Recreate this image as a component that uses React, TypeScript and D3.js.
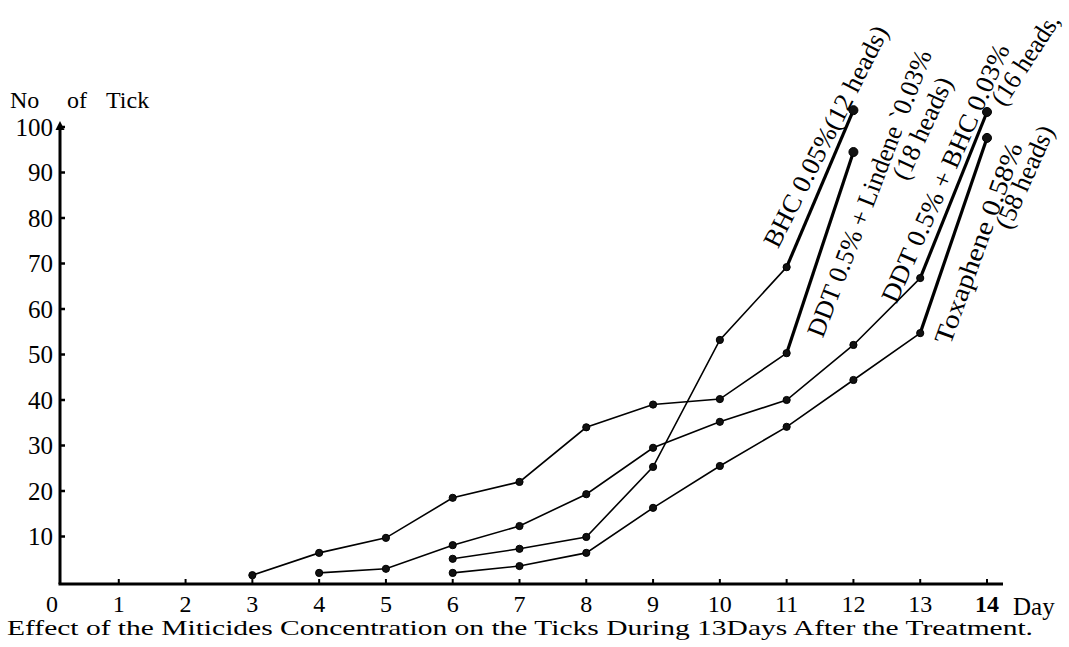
import React from "react";
import * as d3 from "d3";

// ---- data ----
const dayTicks = [0, 1, 2, 3, 4, 5, 6, 7, 8, 9, 10, 11, 12, 13, 14];
const countTicks = [10, 20, 30, 40, 50, 60, 70, 80, 90, 100];

const bhcDays = [6, 7, 8, 9, 10, 11, 12];
const bhcValues = [5.1, 7.3, 9.9, 25.3, 53.2, 69.2, 103.7];

const ddtLindeneDays = [3, 4, 5, 6, 7, 8, 9, 10, 11, 12];
const ddtLindeneValues = [1.5, 6.4, 9.7, 18.5, 22, 34, 39, 40.2, 50.3, 94.5];

const ddtBhcDays = [4, 5, 6, 7, 8, 9, 10, 11, 12, 13, 14];
const ddtBhcValues = [2, 2.9, 8.1, 12.3, 19.3, 29.5, 35.2, 40, 52.1, 66.8, 103.3];

const toxDays = [6, 7, 8, 9, 10, 11, 12, 13, 14];
const toxValues = [2, 3.5, 6.4, 16.3, 25.5, 34.1, 44.4, 54.7, 97.6];

const seriesNames = ["BHC", "DDT+Lindene", "DDT+BHC", "Toxaphene"];

const labelTexts = [
  "BHC 0.05%(12 heads)",
  "DDT 0.5% + Lindene `0.03%",
  "(18 heads)",
  "DDT 0.5% + BHC 0.03%",
  "(16 heads,",
  "Toxaphene 0.58%",
  "(58 heads)",
];
const labelSeries = ["BHC", "DDT+Lindene", "DDT+Lindene", "DDT+BHC", "DDT+BHC", "Toxaphene", "Toxaphene"];

const yAxisTitle = ["No", "of", "Tick"];
const xAxisUnit = "Day";
const caption = "Effect of the Miticides Concentration on the Ticks During 13Days After the Treatment.";

// ---- layout / style (not data) ----
const W = 1069;
const H = 647;
const labelStyle = [
  { dx: -28, dy: 26, angle: -63, len: 245 },
  { dx: 15.5, dy: 41, angle: -69, len: 305 },
  { dx: 68.5, dy: -24, angle: -65, len: 110 },
  { dx: -42, dy: 61, angle: -66, len: 280 },
  { dx: 38, dy: -53, angle: -57, len: 104 },
  { dx: -9, dy: 105, angle: -70, len: 212 },
  { dx: 37, dy: 39, angle: -66, len: 110 },
];

const FONT = "'Liberation Serif', 'DejaVu Serif', serif";

export default function App() {
  const x = d3.scaleLinear().domain([0, 14]).range([52, 987]);
  const y = d3.scaleLinear().domain([0, 100]).range([582, 127]);

  const series = [
    { name: seriesNames[0], days: bhcDays, values: bhcValues },
    { name: seriesNames[1], days: ddtLindeneDays, values: ddtLindeneValues },
    { name: seriesNames[2], days: ddtBhcDays, values: ddtBhcValues },
    { name: seriesNames[3], days: toxDays, values: toxValues },
  ].map((s) => ({
    ...s,
    pts: s.days.map((d, i) => [x(d), y(s.values[i])] as [number, number]),
  }));

  const line = d3.line<[number, number]>();
  const axisX = x(0) + 8;
  const axisY = y(0) + 2;

  return (
    <svg width={W} height={H} style={{ display: "block", position: "absolute", left: 0, top: 0, background: "#fff" }}>
      <rect x={0} y={0} width={W} height={H} fill="#fff" />
      {/* y axis */}
      <line x1={axisX} y1={axisY} x2={axisX} y2={y(100) - 2} stroke="#000" strokeWidth={3} />
      <path d={`M${axisX},${y(100) - 6} l-4.5,9 l9,0 z`} fill="#000" />
      {countTicks.map((t) => (
        <g key={t}>
          <line x1={axisX} x2={axisX + 5} y1={y(t)} y2={y(t)} stroke="#000" strokeWidth={2.5} />
          <text x={axisX - 7} y={y(t) + 8.5} textAnchor="end" fontFamily={FONT} fontSize={25}>
            {t}
          </text>
        </g>
      ))}
      {/* x axis */}
      <line x1={axisX - 1.5} x2={1003} y1={axisY} y2={axisY} stroke="#000" strokeWidth={3} />
      {dayTicks.map((d) => (
        <g key={d}>
          {d > 0 && <line x1={x(d)} x2={x(d)} y1={axisY} y2={axisY - 5} stroke="#000" strokeWidth={2} />}
          <text
            x={x(d)}
            y={axisY + 28}
            textAnchor="middle"
            fontFamily={FONT}
            fontSize={24}
            fontWeight={d === 14 ? "bold" : "normal"}
          >
            {d}
          </text>
        </g>
      ))}
      <text x={1013} y={axisY + 31} fontFamily={FONT} fontSize={25}>
        {xAxisUnit}
      </text>
      {/* y axis title */}
      <text y={108} fontFamily={FONT} fontSize={24}>
        <tspan x={10}>{yAxisTitle[0]}</tspan>
        <tspan x={67}>{yAxisTitle[1]}</tspan>
        <tspan x={106}>{yAxisTitle[2]}</tspan>
      </text>
      {/* series */}
      {series.map((s) => {
        const n = s.pts.length;
        return (
          <g key={s.name}>
            <path d={line(s.pts.slice(0, n - 1)) || ""} fill="none" stroke="#000" strokeWidth={1.6} />
            <path d={line(s.pts.slice(n - 2)) || ""} fill="none" stroke="#000" strokeWidth={3.2} />
            {s.pts.map((p, i) => (
              <circle key={i} cx={p[0]} cy={p[1]} r={i === n - 1 ? 4.5 : 3.6} fill="#111" stroke="#000" strokeWidth={1} />
            ))}
          </g>
        );
      })}
      {/* series labels */}
      {labelTexts.map((t, i) => {
        const s = series.find((q) => q.name === labelSeries[i])!;
        const last = s.pts[s.pts.length - 1];
        const st = labelStyle[i];
        return (
          <text
            key={i}
            transform={`translate(${last[0] + st.dx},${last[1] + st.dy}) rotate(${st.angle})`}
            textAnchor="middle"
            dy="0.35em"
            fontFamily={FONT}
            fontSize={26}
            textLength={st.len}
            lengthAdjust="spacingAndGlyphs"
          >
            {t}
          </text>
        );
      })}
      {/* caption */}
      <text x={7} y={635} fontFamily={FONT} fontSize={22} textLength={1026} lengthAdjust="spacingAndGlyphs">
        {caption}
      </text>
    </svg>
  );
}
